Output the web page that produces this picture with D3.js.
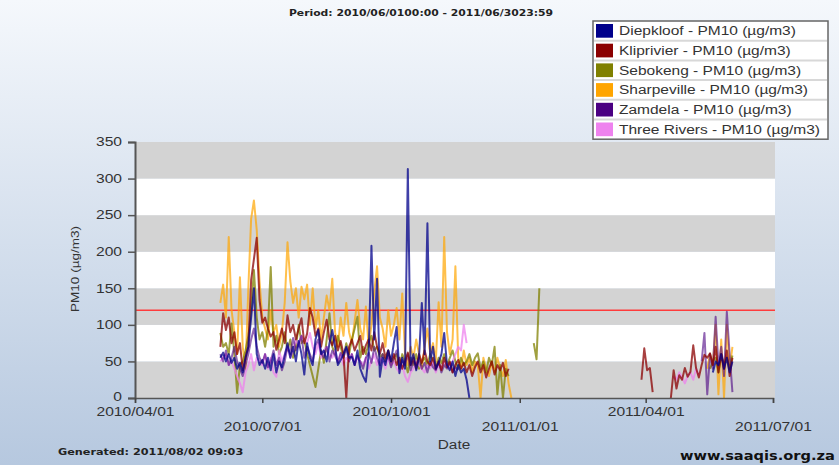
<!DOCTYPE html>
<html><head><meta charset="utf-8">
<script src="https://cdn.jsdelivr.net/npm/d3@7"></script>
<style>body{margin:0;background:#fff}svg{display:block}</style>
</head><body><svg id="c" width="839" height="465"></svg>
<script>
// ---- data ----
const stepDays = 2;
const seriesNames = ["Diepkloof - PM10 (µg/m3)","Kliprivier - PM10 (µg/m3)","Sebokeng - PM10 (µg/m3)","Sharpeville - PM10 (µg/m3)","Zamdela - PM10 (µg/m3)","Three Rivers - PM10 (µg/m3)"];
const seriesColors = ["#00008B","#8B0000","#808000","#FFA500","#4B0082","#EE82EE"];

const diepkloof = [
 ["2010-06-01",[55,62,50,60,48,55,40,48,35,55,70,110,150,60,45,52,40,55,38,60,35,50,42,58,75,55,70,50,78,60,32,75,55,45,80,93,60,65,50,75,93,70,45,52,60,70,55,56,45,65,40,30,22,60,208,80,163,29,55,45,65,50,75,97,34,55,40,313,45,60,38,55,130,60,239,50,70,40,48,60,89,45,38,50,30,45,35,40,25,0]],
 ["2011-05-19",[35,50,45,60,40,55,35,50]]
];
const kliprivier = [
 ["2010-06-01",[70,116,93,110,75,90,60,75,38,55,70,161,190,219,134,103,110,95,84,90,66,80,95,75,113,90,100,80,95,109,75,88,123,110,85,95,70,90,107,80,72,85,65,78,60,0,70,80,65,75,85,60,72,80,65,90,70,60,75,55,65,50,60,45,55,40,50,62,45,55,40,60,48,65,50,45,55,40,50,38,55,42,50,35,45,52,40,48,35,45,30,42,50,35,45,28,40,50,32,45,38,48,30,40]],
 ["2011-03-29",[25,68,38,41,8]],
 ["2011-04-19",[0,38,13,31,25,41,29,36,72,41,28,45,59,55,61,45,70,35,60,40,65,30,55]]
];
const sebokeng = [
 ["2010-06-01",[89,70,75,60,102,60,7,45,50,65,85,120,175,110,80,90,70,95,179,70,85,60,70,90,65,80,55,70,100,75,80,60,45,30,15,40,65,48,80,116,70,60,85,70,55,75,60,80,95,111,55,70,60,75,85,65,70,55,60,50,65,45,55,60,40,60,50,35,55,45,60,40,50,55,45,60,50,40,55,48,60,45,55,65,50,40,55,45,50,60,45,55,61,40,50,35,55,45,70,5,45,0,40,30]],
 ["2011-01-11",[75,53,150]],
 ["2011-05-17",[40,50,55,35,60,45,55,40,58]]
];
const sharpeville = [
 ["2010-06-01",[130,155,110,220,120,90,60,165,70,40,150,245,270,230,160,110,95,80,120,90,100,70,90,130,213,160,130,150,110,152,135,155,100,150,95,120,80,110,140,120,163,90,70,110,85,130,90,75,105,134,95,80,125,70,100,145,180,110,95,70,120,85,100,123,80,143,60,45,70,55,80,60,40,70,95,60,75,50,131,70,220,90,60,80,180,55,40,65,45,55,35,50,45,0,55,40,30,50,35,55,40,30,52,20,0]],
 ["2011-05-15",[40,60,45,100,5,80,0,100,40,70]]
];
const zamdela = [
 ["2010-06-01",[60,50,65,45,55,70,50,40,30,45,60,80,95,70,55,48,60,42,50,65,45,55,38,50,70,60,82,65,75,85,55,70,60,50,72,80,62,55,70,50,65,58,48,62,55,68,50,60,45,58,50,40,55,62,48,70,55,45,60,50,58,42,55,65,40,52,45,60,38,50,45,55,40,48,35,50,42,38,50,35,45,40,48,35,42,38]],
 ["2011-05-11",[50,89,5,60,40,111,45,70,30,118,60,8]]
];
const threeRivers = [
 ["2010-06-01",[50,55,60,45,50,40,30,20,8,35,45,60,38,55,50,45,60,40,55,35,29,65,50,60,70,55,65,80,70,85,80,75,89,70,60,75,55,65,70,60,55,65,50,60,45,55,50,60,45,55,50,45,55,40,50,60,45,55,50,40,55,45,50,40,35,45,30,22,35,40,50,45,40,35,45,40,50,35,45,40,50,45,40,50,60,70,65,100,75]],
 ["2011-04-21",[30,25,35,28,20,30,35,25,40,30]]
];
const seriesData = [diepkloof, kliprivier, sebokeng, sharpeville, zamdela, threeRivers];
const drawOrder = [3,2,5,4,1,0];

const yTicks = [0,50,100,150,200,250,300,350];
const xTickDates = ["2010-04-01","2010-07-01","2010-10-01","2011-01-01","2011-04-01","2011-07-01"];
const xTickLabels = ["2010/04/01","2010/07/01","2010/10/01","2011/01/01","2011/04/01","2011/07/01"];
const limitValue = 120;
const titleText = "Period: 2010/06/0100:00 - 2011/06/3023:59";
const generatedText = "Generated: 2011/08/02 09:03";
const siteText = "www.saaqis.org.za";

// ---- drawing ----
const parse = d3.utcParse("%Y-%m-%d");
const svg = d3.select("#c");
function stretch(sel, f) {
  sel.each(function(){ const w = this.getComputedTextLength();
    d3.select(this).attr("textLength", w*f).attr("lengthAdjust","spacingAndGlyphs"); });
  return sel;
}
const defs = svg.append("defs");
const g = defs.append("linearGradient").attr("id","bg").attr("x1",0).attr("y1",0).attr("x2",0).attr("y2",1);
g.append("stop").attr("offset","0%").attr("stop-color","#f5f8fc");
g.append("stop").attr("offset","100%").attr("stop-color","#b6c8df");
svg.append("rect").attr("width",839).attr("height",465).attr("fill","url(#bg)");

const x = d3.scaleUtc().domain([parse("2010-04-01"), parse("2011-07-01")]).range([135, 773]);
const y = d3.scaleLinear().domain([0,350]).range([398,142]);
const plotL = 135, plotR = 775;

// bands
for (let i = 0; i < yTicks.length - 1; i++) {
  svg.append("rect").attr("x",plotL).attr("width",plotR-plotL)
    .attr("y",y(yTicks[i+1])).attr("height",y(yTicks[i])-y(yTicks[i+1]))
    .attr("fill", i % 2 === 0 ? "#d3d3d3" : "#ffffff");
}

// limit line
svg.append("line").attr("x1",plotL).attr("x2",plotR).attr("y1",y(limitValue)).attr("y2",y(limitValue))
  .attr("stroke","#ff3c3c").attr("stroke-width",1.5);

// series
const line = d3.line().x(d=>x(d[0])).y(d=>y(d[1]));
drawOrder.forEach(si => {
  seriesData[si].forEach(([start, vals]) => {
    const s = parse(start);
    const pts = vals.map((v,k)=>[d3.utcDay.offset(s, k*stepDays), v]);
    svg.append("path").attr("d", line(pts)).attr("fill","none")
      .attr("stroke", seriesColors[si]).attr("stroke-width",2)
      .attr("stroke-opacity", si===3 ? 0.7 : (si===4 ? 0.6 : 0.75)).attr("stroke-linejoin","round");
  });
});

// axes
const yAxis = d3.axisLeft(y).tickValues(yTicks).tickSize(7).tickPadding(6);
const ya = svg.append("g").attr("transform",`translate(${plotL},0)`).call(yAxis);
ya.select(".domain").attr("stroke","#555").attr("stroke-width",2);
ya.selectAll(".tick line").attr("stroke","#555").attr("stroke-width",1.5);
stretch(ya.selectAll("text").attr("font-family","Liberation Sans, Arial").attr("font-size",12).attr("fill","#333"), 1.3);
ya.selectAll(".tick").filter(d=>d===0).select("text").attr("dy","0.2em");

const xAxis = d3.axisBottom(x).tickValues(xTickDates.map(parse)).tickSize(5).tickFormat((d,i)=>xTickLabels[i]);
const xa = svg.append("g").attr("transform","translate(0,398)").call(xAxis);
xa.select(".domain").attr("stroke","#555").attr("stroke-width",1.5);
xa.selectAll(".tick line").attr("stroke","#444").attr("stroke-width",1.5);
stretch(xa.selectAll("text").attr("font-family","Liberation Sans, Arial").attr("font-size",12).attr("fill","#333")
  .attr("dy",(d,i)=> i%2===0 ? "0.8em" : "2.05em"), 1.3);

// axis titles
stretch(svg.append("text").attr("x",454).attr("y",449).attr("text-anchor","middle")
  .attr("font-family","Liberation Sans, Arial").attr("font-size",12).attr("fill","#333").text("Date"), 1.28);
stretch(svg.append("text").attr("transform","translate(79,269) rotate(-90)").attr("text-anchor","middle")
  .attr("font-family","Liberation Sans, Arial").attr("font-size",10).attr("fill","#333").text("PM10 (µg/m3)"), 1.35);

// title and footers
stretch(svg.append("text").attr("x",421).attr("y",16).attr("text-anchor","middle")
  .attr("font-family","DejaVu Sans").attr("font-weight","bold").attr("font-size",8.5).attr("fill","#222").text(titleText), 1.27);
stretch(svg.append("text").attr("x",58).attr("y",455)
  .attr("font-family","DejaVu Sans").attr("font-weight","bold").attr("font-size",8.5).attr("fill","#222").text(generatedText), 1.32);
stretch(svg.append("text").attr("x",835).attr("y",460).attr("text-anchor","end")
  .attr("font-family","DejaVu Sans").attr("font-weight","bold").attr("font-size",12.5).attr("fill","#111").text(siteText), 1.17);

// legend
const lx = 593, ly = 21, lw = 235, rowH = 19.7;
const leg = svg.append("g");
leg.append("rect").attr("x",lx).attr("y",ly).attr("width",lw).attr("height",rowH*6).attr("fill","#fff")
  .attr("stroke","#666").attr("stroke-width",1.5);
seriesNames.forEach((n,i)=>{
  const ry = ly + i*rowH;
  if (i>0) leg.append("line").attr("x1",lx+1).attr("x2",lx+lw-1).attr("y1",ry).attr("y2",ry).attr("stroke","#d8d8d8").attr("stroke-width",2);
  leg.append("rect").attr("x",lx+3).attr("y",ry+3).attr("width",17).attr("height",rowH-6).attr("fill",seriesColors[i]);
  stretch(leg.append("text").attr("x",lx+26).attr("y",ry+rowH/2+4.5)
    .attr("font-family","Liberation Sans, Arial").attr("font-size",12.5).attr("fill","#333").text(n), 1.24);
});
</script></body></html>
